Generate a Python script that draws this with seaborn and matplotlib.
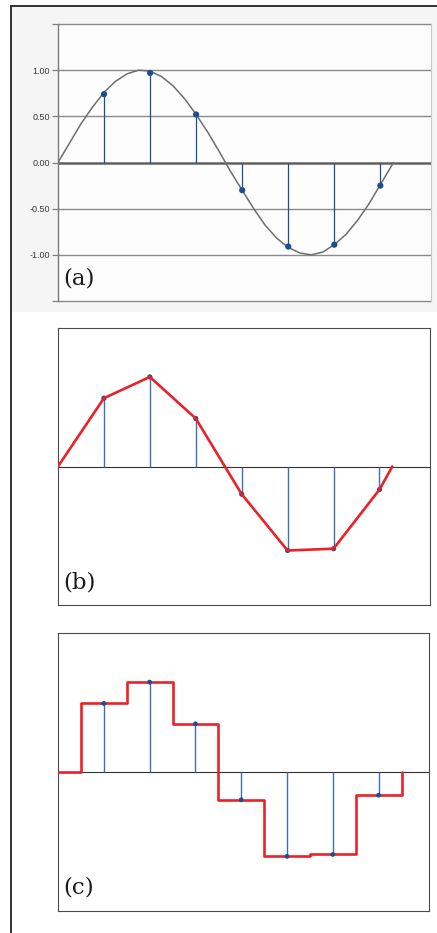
import numpy as np
import pandas as pd
import matplotlib
matplotlib.use("Agg")
import matplotlib.pyplot as plt
from matplotlib.lines import Line2D
from matplotlib.patches import Rectangle
import seaborn as sns

# ---- data ----
sample_n = [1, 2, 3, 4, 5, 6, 7]
sample_vals = [0.74, 0.97, 0.52, -0.30, -0.91, -0.89, -0.25]

# analog (continuous) curve, read at quarter-sample steps
curve_t = [0, 0.25, 0.5, 0.75, 1.0, 1.25, 1.5, 1.75, 2.0, 2.25, 2.5, 2.75, 3.0,
           3.25, 3.5, 3.75, 4.0, 4.25, 4.5, 4.75, 5.0, 5.25, 5.5, 5.75, 6.0,
           6.25, 6.5, 6.75, 7.0, 7.25, 7.28]
curve_v = [0.0, 0.21, 0.42, 0.60, 0.76, 0.88, 0.96, 1.0, 0.99, 0.93, 0.83, 0.69,
           0.52, 0.33, 0.12, -0.10, -0.30, -0.50, -0.68, -0.82, -0.92, -0.98,
           -1.0, -0.97, -0.89, -0.78, -0.63, -0.45, -0.24, -0.03, 0.0]

# linear interpolation path (b): start, samples, end
lin_t = [0] + sample_n + [7.28]
lin_v = [0.0] + sample_vals + [0.0]

# zero-order hold path (c)
step_t = [0] + sample_n + [7.5, 7.5]
step_v = [0.0] + sample_vals + [sample_vals[-1], 0.0]

ytick_vals = [-1.5, -1.0, -0.5, 0.0, 0.5, 1.0, 1.5]
ytick_labels = ["", "-1.00", "-0.50", "0.00", "0.50", "1.00", ""]
panel_labels = ["(a)", "(b)", "(c)"]

W, H = 437, 933
sns.set_theme(style="white")
plt.rcParams["font.family"] = ["Liberation Sans", "DejaVu Sans"]
fig = plt.figure(figsize=(W / 100, H / 100), dpi=100)
fig.patch.set_facecolor("white")

def frac(l, t, r, b):
    return [l / W, 1 - b / H, (r - l) / W, (b - t) / H]

# light background behind panel (a)
fig.add_artist(Rectangle((10 / W, 1 - 312 / H), (W - 10) / W, (312 - 5) / H,
                         transform=fig.transFigure, facecolor="#f5f5f5",
                         edgecolor="none", zorder=0))
# outer frame lines
fig.add_artist(Line2D([10.5 / W, 10.5 / W], [0, 1 - 5.5 / H], transform=fig.transFigure,
                      color="#222222", lw=1.3))
fig.add_artist(Line2D([10.5 / W, 1], [1 - 5.5 / H, 1 - 5.5 / H], transform=fig.transFigure,
                      color="#222222", lw=1.3))

axA = fig.add_axes(frac(58, 24, 431, 301))
axB = fig.add_axes(frac(58, 328, 430, 605))
axC = fig.add_axes(frac(58, 633, 429, 911))

XLIM = (0, 8.1)
YLIM = (-1.5, 1.5)

stem_dark = "#1d4f90"
stem_light = "#3f6fae"
dot_col = "#1b4f91"
red = "#ec2128"

# ---- panel (a) ----
axA.set_facecolor("#fdfdfd")
axA.set_xlim(*XLIM)
axA.set_ylim(*YLIM)
for y in ytick_vals:
    if y == 0:
        continue
    axA.axhline(y, color="#8a8a8a", lw=1.0, zorder=1, clip_on=False)
axA.axhline(0, color="#606060", lw=1.8, zorder=2)
sns.lineplot(x=curve_t, y=curve_v, ax=axA, color="#6e6e6e", lw=1.1,
             estimator=None, sort=False, zorder=3)
axA.vlines(sample_n, 0, sample_vals, color=stem_dark, lw=0.9, zorder=4)
sns.scatterplot(x=sample_n, y=sample_vals, ax=axA, color=dot_col, s=20,
                edgecolor="none", zorder=5)
axA.set_yticks(ytick_vals)
axA.set_yticklabels(ytick_labels)
axA.set_xticks([])
axA.tick_params(axis="y", which="both", left=True, length=4, width=0.9,
                color="#808080", labelsize=6.5, labelcolor="#3a3a3a", pad=2)
for s in ["top", "bottom"]:
    axA.spines[s].set_visible(False)
axA.spines["left"].set_color("#7a7a7a")
axA.spines["left"].set_linewidth(1.0)
axA.spines["right"].set_color("#c8c8c8")
axA.spines["right"].set_linewidth(0.8)

# ---- panels (b) and (c) ----
for ax in (axB, axC):
    ax.set_facecolor("white")
    ax.set_xlim(*XLIM)
    ax.set_ylim(*YLIM)
    ax.set_xticks([])
    ax.set_yticks([])
    for s in ax.spines.values():
        s.set_color("#4a4a4a")
        s.set_linewidth(0.8)
        s.set_visible(True)
    ax.axhline(0, color="#333333", lw=0.8, zorder=1)
    ax.vlines(sample_n, 0, sample_vals, color=stem_light, lw=1.0, zorder=2)

sns.lineplot(x=lin_t, y=lin_v, ax=axB, color=red, lw=1.9,
             estimator=None, sort=False, zorder=3)
sns.scatterplot(x=sample_n, y=sample_vals, ax=axB, color=dot_col, s=14,
                edgecolor="none", zorder=2.5)

axC.plot(step_t, step_v, color=red, lw=1.9, drawstyle="steps-mid", zorder=3)
sns.scatterplot(x=sample_n, y=sample_vals, ax=axC, color=dot_col, s=12,
                edgecolor="none", zorder=4)

# panel letters
for ax, lab in zip((axA, axB, axC), panel_labels):
    ax.text(0.014, 0.083, lab, transform=ax.transAxes, ha="left", va="center",
            fontsize=16.5, family=["DejaVu Serif"], color="#1a1a1a", zorder=6)

fig.savefig("out.png", dpi=100, facecolor=fig.get_facecolor())
